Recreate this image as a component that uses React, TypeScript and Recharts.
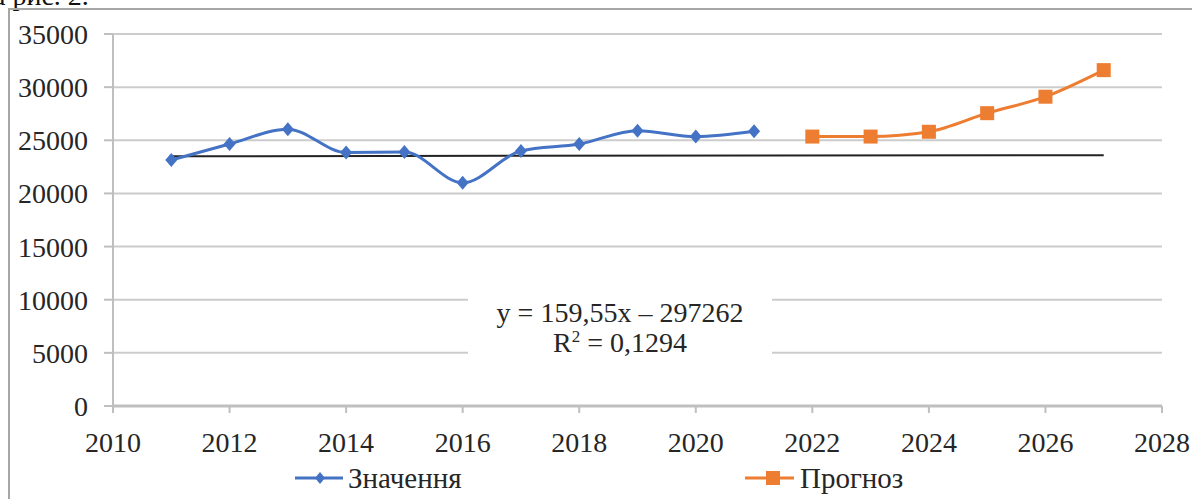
import React from "react";
import {
  LineChart,
  Line,
  XAxis,
  YAxis,
  CartesianGrid,
} from "recharts";

// Actual values, 2011-2021
const years = [2011, 2012, 2013, 2014, 2015, 2016, 2017, 2018, 2019, 2020, 2021];
const values = [23150, 24650, 26050, 23850, 23900, 21000, 24000, 24650, 25900, 25350, 25850];

// Forecast, 2022-2027
const forecastYears = [2022, 2023, 2024, 2025, 2026, 2027];
const forecastValues = [25350, 25350, 25800, 27550, 29100, 31600];

// Linear trend drawn over the whole range
const trendYears = [2011, 2027];
const trendValues = [23500, 23600];

const xTicks = [2010, 2012, 2014, 2016, 2018, 2020, 2022, 2024, 2026, 2028];
const yTicks = [0, 5000, 10000, 15000, 20000, 25000, 30000, 35000];

const BLUE = "#4472C4";
const ORANGE = "#ED7D31";
const FONT = "'Liberation Serif', 'Times New Roman', serif";

const actualData = years.map((year, i) => ({ year, value: values[i] }));
const forecastData = forecastYears.map((year, i) => ({ year, value: forecastValues[i] }));
const trendData = trendYears.map((year, i) => ({ year, value: trendValues[i] }));

function Diamond(props: { cx?: number; cy?: number; index?: number }) {
  const { cx, cy, index } = props;
  if (cx == null || cy == null) return null;
  return (
    <path
      key={index}
      d={`M${cx},${cy - 7} L${cx + 6},${cy} L${cx},${cy + 7} L${cx - 6},${cy} Z`}
      fill={BLUE}
    />
  );
}

function Square(props: { cx?: number; cy?: number; index?: number }) {
  const { cx, cy, index } = props;
  if (cx == null || cy == null) return null;
  return <rect key={index} x={cx - 7} y={cy - 7} width={14} height={14} fill={ORANGE} />;
}

const tickStyle = { fontFamily: FONT, fontSize: 28, fill: "#262626" };

export default function App() {
  return (
    <div
      style={{
        position: "absolute",
        left: 0,
        top: 0,
        width: 1192,
        height: 499,
        overflow: "hidden",
        background: "#fff",
        fontFamily: FONT,
      }}
    >
      {/* caption cut off by the page top, as in the source scan */}
      <div
        style={{
          position: "absolute",
          left: -22,
          top: -20,
          fontSize: 28,
          color: "#111",
          whiteSpace: "nowrap",
        }}
      >
        на рис. 2.
      </div>

      {/* chart frame */}
      <div
        style={{
          position: "absolute",
          left: 8,
          top: 8,
          width: 1200,
          height: 520,
          borderLeft: "2px solid #a6a6a6",
          borderTop: "2px solid #a6a6a6",
        }}
      />

      <div style={{ position: "absolute", left: 0, top: 0 }}>
        <LineChart
          width={1192}
          height={499}
          margin={{ top: 34, right: 30, bottom: 0, left: 0 }}
        >
          <CartesianGrid vertical={false} stroke="#cccccc" strokeWidth={2} />
          <XAxis
            dataKey="year"
            type="number"
            domain={[2010, 2028]}
            ticks={xTicks}
            height={93}
            tickSize={7}
            tickMargin={19}
            axisLine={{ stroke: "#bfbfbf", strokeWidth: 3 }}
            tickLine={{ stroke: "#bfbfbf", strokeWidth: 2 }}
            tick={tickStyle}
            allowDuplicatedCategory={false}
          />
          <YAxis
            type="number"
            domain={[0, 35000]}
            ticks={yTicks}
            width={113}
            tickSize={9}
            tickMargin={16}
            axisLine={{ stroke: "#bfbfbf", strokeWidth: 2 }}
            tickLine={{ stroke: "#bfbfbf", strokeWidth: 2 }}
            tick={tickStyle}
          />
          <Line
            data={trendData}
            dataKey="value"
            type="linear"
            stroke="#222"
            strokeWidth={2}
            dot={false}
            isAnimationActive={false}
          />
          <Line
            data={actualData}
            dataKey="value"
            name="Значення"
            type="monotone"
            stroke={BLUE}
            strokeWidth={3}
            dot={<Diamond />}
            activeDot={false}
            isAnimationActive={false}
          />
          <Line
            data={forecastData}
            dataKey="value"
            name="Прогноз"
            type="monotone"
            stroke={ORANGE}
            strokeWidth={3}
            dot={<Square />}
            activeDot={false}
            isAnimationActive={false}
          />
        </LineChart>
      </div>

      {/* trendline equation */}
      <div
        style={{
          position: "absolute",
          left: 468,
          top: 292,
          width: 304,
          height: 68,
          paddingTop: 6,
          boxSizing: "border-box",
          background: "#fff",
          textAlign: "center",
          fontSize: 28,
          lineHeight: "30px",
          color: "#262626",
        }}
      >
        <div>y = 159,55x – 297262</div>
        <div>
          R<sup style={{ fontSize: 17, verticalAlign: "10px", lineHeight: 0 }}>2</sup> = 0,1294
        </div>
      </div>

      {/* legend */}
      <div
        style={{
          position: "absolute",
          left: 295,
          top: 462,
          display: "flex",
          alignItems: "center",
          fontSize: 29,
          color: "#262626",
          lineHeight: "32px",
        }}
      >
        <svg width={50} height={20} style={{ marginRight: 3 }}>
          <line x1={0} y1={10} x2={48} y2={10} stroke={BLUE} strokeWidth={3} />
          <path d="M25,4 L30,10 L25,16 L20,10 Z" fill={BLUE} />
        </svg>
        <span>Значення</span>
      </div>
      <div
        style={{
          position: "absolute",
          left: 745,
          top: 462,
          display: "flex",
          alignItems: "center",
          fontSize: 29,
          color: "#262626",
          lineHeight: "32px",
        }}
      >
        <svg width={52} height={20} style={{ marginRight: 3 }}>
          <line x1={0} y1={10} x2={49} y2={10} stroke={ORANGE} strokeWidth={3} />
          <rect x={21} y={3} width={14} height={14} fill={ORANGE} />
        </svg>
        <span>Прогноз</span>
      </div>
    </div>
  );
}
